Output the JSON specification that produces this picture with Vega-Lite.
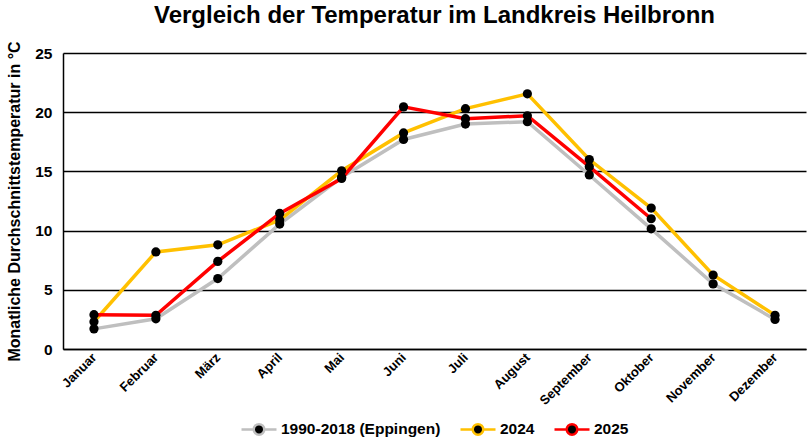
{
  "$schema": "https://vega.github.io/schema/vega-lite/v6.json",
  "autosize": "none",
  "width": 743,
  "height": 296,
  "padding": {"left": 63, "top": 53, "right": 1, "bottom": 90},
  "background": "white",
  "title": {"text": "Vergleich der Temperatur im Landkreis Heilbronn", "font": "Liberation Sans", "fontSize": 24, "fontWeight": "bold", "color": "black", "offset": 13},
  "config": {"view": {"stroke": null}, "font": "Liberation Sans",
    "legend": {"layout": {"bottom": {"anchor": "middle"}}}},
  "data": {"values": [
    {"month": "Januar", "series": "1990-2018 (Eppingen)", "temp": 1.7},
    {"month": "Februar", "series": "1990-2018 (Eppingen)", "temp": 2.55},
    {"month": "März", "series": "1990-2018 (Eppingen)", "temp": 5.95},
    {"month": "April", "series": "1990-2018 (Eppingen)", "temp": 10.55},
    {"month": "Mai", "series": "1990-2018 (Eppingen)", "temp": 14.5},
    {"month": "Juni", "series": "1990-2018 (Eppingen)", "temp": 17.7},
    {"month": "Juli", "series": "1990-2018 (Eppingen)", "temp": 19.0},
    {"month": "August", "series": "1990-2018 (Eppingen)", "temp": 19.2},
    {"month": "September", "series": "1990-2018 (Eppingen)", "temp": 14.7},
    {"month": "Oktober", "series": "1990-2018 (Eppingen)", "temp": 10.15},
    {"month": "November", "series": "1990-2018 (Eppingen)", "temp": 5.5},
    {"month": "Dezember", "series": "1990-2018 (Eppingen)", "temp": 2.5},
    {"month": "Januar", "series": "2024", "temp": 2.3},
    {"month": "Februar", "series": "2024", "temp": 8.2},
    {"month": "März", "series": "2024", "temp": 8.8},
    {"month": "April", "series": "2024", "temp": 10.9},
    {"month": "Mai", "series": "2024", "temp": 15.05},
    {"month": "Juni", "series": "2024", "temp": 18.25},
    {"month": "Juli", "series": "2024", "temp": 20.3},
    {"month": "August", "series": "2024", "temp": 21.55},
    {"month": "September", "series": "2024", "temp": 16.0},
    {"month": "Oktober", "series": "2024", "temp": 11.9},
    {"month": "November", "series": "2024", "temp": 6.25},
    {"month": "Dezember", "series": "2024", "temp": 2.85},
    {"month": "Januar", "series": "2025", "temp": 2.9},
    {"month": "Februar", "series": "2025", "temp": 2.85},
    {"month": "März", "series": "2025", "temp": 7.4},
    {"month": "April", "series": "2025", "temp": 11.45},
    {"month": "Mai", "series": "2025", "temp": 14.4},
    {"month": "Juni", "series": "2025", "temp": 20.45},
    {"month": "Juli", "series": "2025", "temp": 19.45},
    {"month": "August", "series": "2025", "temp": 19.7},
    {"month": "September", "series": "2025", "temp": 15.4},
    {"month": "Oktober", "series": "2025", "temp": 11.0}
  ]},
  "encoding": {
    "x": {"field": "month", "type": "nominal",
      "sort": ["Januar","Februar","März","April","Mai","Juni","Juli","August","September","Oktober","November","Dezember"],
      "scale": {"type": "point", "padding": 0.5},
      "axis": {"title": null, "labelAngle": -45, "labelAlign": "right", "labelBaseline": "middle", "labelFontWeight": "bold", "labelFontSize": 13, "labelColor": "black", "domainColor": "black", "domainWidth": 1.5, "ticks": false, "grid": false, "labelPadding": 6}},
    "y": {"field": "temp", "type": "quantitative",
      "scale": {"domain": [0, 25], "nice": false},
      "axis": {"title": "Monatliche Durchschnittstemperatur in °C", "titleFontSize": 16, "titleFontWeight": "bold", "titleColor": "black", "titlePadding": 12,
        "values": [0,5,10,15,20,25], "labelFontWeight": "bold", "labelFontSize": 15.5, "labelColor": "black", "labelPadding": 11,
        "ticks": false, "domainColor": "black", "domainWidth": 1.5, "grid": true, "gridColor": "black", "gridWidth": 1.5, "gridOpacity": 1}}
  },
  "layer": [
    {"mark": {"type": "line", "strokeWidth": 3.5},
     "encoding": {"stroke": {"field": "series", "type": "nominal",
        "scale": {"domain": ["1990-2018 (Eppingen)", "2024", "2025"], "range": ["#BFBFBF", "#FFC000", "#FF0000"]},
        "legend": {"title": null, "orient": "bottom", "direction": "horizontal", "labelFontSize": 15.5, "labelFontWeight": "bold", "labelColor": "black",
          "symbolType": "M-1,0L-0.3,0M0.3,0L1,0M-0.3,0A0.3,0.3 0 1,1 0.3,0A0.3,0.3 0 1,1 -0.3,0Z",
          "symbolSize": 1225, "symbolStrokeWidth": 2.5, "columnPadding": 14, "labelOffset": 3, "offset": 2}}}},
    {"mark": {"type": "point", "filled": true, "size": 85, "opacity": 1, "strokeWidth": 0},
     "encoding": {"fill": {"field": "series", "type": "nominal",
        "scale": {"domain": ["1990-2018 (Eppingen)", "2024", "2025"], "range": ["black", "black", "black"]},
        "legend": {"title": null, "orient": "bottom", "direction": "horizontal", "labelFontSize": 15.5, "labelFontWeight": "bold", "labelColor": "black",
          "symbolType": "M-1,0L-0.3,0M0.3,0L1,0M-0.3,0A0.3,0.3 0 1,1 0.3,0A0.3,0.3 0 1,1 -0.3,0Z",
          "symbolSize": 1225, "symbolStrokeWidth": 2.5, "columnPadding": 14, "labelOffset": 3, "offset": 2}}}}
  ]
}
